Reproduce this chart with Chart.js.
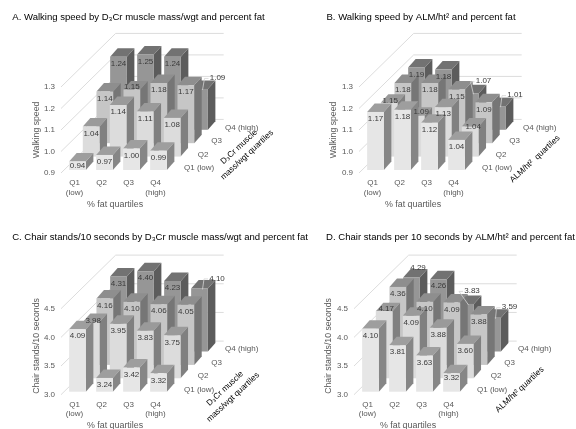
<!DOCTYPE html>
<html>
<head>
<meta charset="utf-8">
<script src="https://cdn.jsdelivr.net/npm/chart.js@4/dist/chart.umd.js"></script>
<style>
html,body{margin:0;padding:0;background:#fff;overflow:hidden;width:576px;height:429px}
#wrap{position:relative;width:576px;height:429px;overflow:hidden}
#wrap div{position:absolute}
</style>
</head>
<body>
<div id="wrap">
<div id="boxA"><canvas id="chartA"></canvas></div>
<div id="boxB"><canvas id="chartB"></canvas></div>
<div id="boxC"><canvas id="chartC"></canvas></div>
<div id="boxD"><canvas id="chartD"></canvas></div>
</div>
<script>
// ---- data ----
const fatQuartiles = [['Q1','(low)'],'Q2','Q3',['Q4','(high)']];
const depthQuartiles = ['Q1 (low)','Q2','Q3','Q4 (high)'];

const walkDxaQ1 = [0.94,0.97,1.00,0.99];
const walkDxaQ2 = [1.04,1.14,1.11,1.08];
const walkDxaQ3 = [1.14,1.15,1.18,1.17];
const walkDxaQ4 = [1.24,1.25,1.24,1.09];

const walkAlmQ1 = [1.17,1.18,1.12,1.04];
const walkAlmQ2 = [1.15,1.09,1.13,1.04];
const walkAlmQ3 = [1.18,1.18,1.15,1.09];
const walkAlmQ4 = [1.19,1.18,1.07,1.01];

const chairDxaQ1 = [4.09,3.24,3.42,3.32];
const chairDxaQ2 = [3.98,3.95,3.83,3.75];
const chairDxaQ3 = [4.16,4.10,4.06,4.05];
const chairDxaQ4 = [4.31,4.40,4.23,4.10];

const chairAlmQ1 = [4.10,3.81,3.63,3.32];
const chairAlmQ2 = [4.17,4.09,3.88,3.60];
const chairAlmQ3 = [4.36,4.10,4.09,3.88];
const chairAlmQ4 = [4.29,4.26,3.83,3.59];

// ---- styling ----
const FONT = '"Liberation Sans", Arial, sans-serif';
const faceFront = ['#e6e6e6','#dcdcdc','#c6c6c6','#969696'];
const faceTop   = ['#9e9e9e','#9a9a9a','#8e8e8e','#727272'];
const faceSide  = ['#868686','#808080','#767676','#5c5c5c'];
const STEP_X = 13.67, STEP_Y = 13.4, INSET = 3, BAR_DX = 7.5, BAR_DY = 8.5;

// bar: front face from the library's scales, pushed back along the depth axis
class Bar3DElement extends Chart.BarElement {
  static id = 'bar3dEl';
  draw(ctx) {
    const {x, y, base, width, faces} = this;
    const l = x - width / 2, r = x + width / 2;
    ctx.save();
    ctx.fillStyle = faces.side;
    ctx.beginPath();
    ctx.moveTo(r, y); ctx.lineTo(r + BAR_DX, y - BAR_DY);
    ctx.lineTo(r + BAR_DX, base - BAR_DY); ctx.lineTo(r, base);
    ctx.closePath(); ctx.fill();
    ctx.fillStyle = faces.top;
    ctx.beginPath();
    ctx.moveTo(l, y); ctx.lineTo(r, y);
    ctx.lineTo(r + BAR_DX, y - BAR_DY); ctx.lineTo(l + BAR_DX, y - BAR_DY);
    ctx.closePath(); ctx.fill();
    ctx.fillStyle = faces.front;
    ctx.fillRect(l, y, width, base - y);
    ctx.restore();
  }
}
class Bar3DController extends Chart.BarController {
  static id = 'bar3d';
  static defaults = {dataElementType: 'bar3dEl'};
  static overrides = Chart.BarController.overrides;
  updateElement(el, index, props, mode) {
    const k = this.index;
    const ox = INSET + k * STEP_X, oy = INSET + k * STEP_Y;
    if (props.x !== undefined) props.x += ox;
    if (props.y !== undefined) props.y -= oy;
    if (props.base !== undefined) props.base -= oy;
    props.faces = {front: faceFront[k], top: faceTop[k], side: faceSide[k]};
    super.updateElement(el, index, props, mode);
  }
}
// value axis whose title can sit off the axis centre
class ShiftedTitleScale extends Chart.LinearScale {
  static id = 'linearShiftedTitle';
  static defaults = Chart.LinearScale.defaults;
  drawTitle() {
    const ctx = this.ctx;
    ctx.save();
    ctx.translate(0, -(this.options.titleShift || 0));
    super.drawTitle();
    ctx.restore();
  }
}
Chart.register(Bar3DElement, Bar3DController, ShiftedTitleScale);

const depthPlugin = {
  id: 'depth3d',
  beforeDatasetsDraw(chart) {
    const {ctx, chartArea: a, scales: {y}} = chart;
    const n = depthQuartiles.length, X = n * STEP_X, Y = n * STEP_Y;
    ctx.save();
    ctx.strokeStyle = '#dcdcdc'; ctx.lineWidth = 1;
    y.ticks.forEach(t => {
      const py = y.getPixelForValue(t.value);
      ctx.beginPath();
      ctx.moveTo(a.left, py); ctx.lineTo(a.left + X, py - Y); ctx.lineTo(a.right + X, py - Y);
      ctx.stroke();
    });
    ctx.restore();
  },
  afterDatasetsDraw(chart, args, opts) {
    const {ctx, chartArea: a} = chart;
    ctx.save();
    // value labels
    ctx.font = '8px ' + FONT; ctx.textAlign = 'center'; ctx.textBaseline = 'middle';
    chart.data.datasets.forEach((ds, s) => {
      const meta = chart.getDatasetMeta(s);
      ds.data.forEach((v, c) => {
        const el = meta.data[c];
        const nudge = opts.nudges[s + ',' + c] || [0, 7];
        const lx = el.x + nudge[0], ly = el.y + nudge[1];
        if (nudge[2]) {
          ctx.strokeStyle = '#d4d4d4'; ctx.lineWidth = 0.8;
          ctx.beginPath();
          ctx.moveTo(el.x + 3, el.y + 1); ctx.lineTo(lx - 13, ly + 0.5); ctx.lineTo(lx - 9, ly + 0.5);
          ctx.stroke();
        }
        ctx.fillStyle = '#3a3a3a';
        ctx.fillText(v.toFixed(2), lx, ly);
      });
    });
    // depth axis tick labels
    ctx.font = '8px ' + FONT; ctx.fillStyle = '#595959'; ctx.textAlign = 'left';
    depthQuartiles.forEach((lab, k) => {
      ctx.fillText(lab, a.right + 15 + k * STEP_X, a.bottom - 5.3 - k * STEP_Y);
    });
    // depth axis title
    ctx.font = '8.3px ' + FONT; ctx.fillStyle = '#000'; ctx.textAlign = 'center';
    opts.depthTitle.forEach(line => {
      ctx.save();
      ctx.translate(a.left + line.dx, a.bottom - line.dy);
      ctx.rotate(-43 * Math.PI / 180);
      ctx.fillText(line.text, 0, 0);
      ctx.restore();
    });
    ctx.restore();
  }
};

function panel(id, cfg) {
  const box = document.getElementById('box' + id);
  box.style.left = cfg.cx + 'px'; box.style.top = cfg.cy + 'px';
  box.style.width = cfg.W + 'px'; box.style.height = cfg.H + 'px';
  new Chart(document.getElementById('chart' + id), {
    type: 'bar3d',
    plugins: [depthPlugin],
    data: {
      labels: fatQuartiles,
      datasets: cfg.series.map((d, i) => ({
        label: depthQuartiles[i], data: d, grouped: false, clip: false, base: cfg.min,
        categoryPercentage: 0.62, barPercentage: 1, backgroundColor: faceFront[i]
      }))
    },
    options: {
      responsive: true, maintainAspectRatio: false, animation: false,
      layout: {padding: 0},
      plugins: {
        legend: {display: false},
        tooltip: {enabled: false},
        title: {
          display: true, text: cfg.title, align: 'center', color: '#000',
          font: {family: FONT, size: 9.55, weight: 'normal', lineHeight: 1.2},
          padding: {top: cfg.titleTop, bottom: cfg.T - cfg.titleTop - 9.55 * 1.2}
        },
        depth3d: {depthTitle: cfg.depthTitle, nudges: cfg.nudges}
      },
      scales: {
        x: {
          type: 'category',
          grid: {display: false, drawTicks: false}, border: {display: false},
          ticks: {color: '#595959', font: {family: FONT, size: 8, lineHeight: 1.2}, padding: 5, maxRotation: 0, autoSkip: false},
          title: {display: true, text: '% fat quartiles', color: '#595959',
                  font: {family: FONT, size: 8.9}, padding: {top: 2, bottom: cfg.xTitleBottom}},
          afterFit(s) { s.height = cfg.H - cfg.B; }
        },
        y: {
          type: 'linearShiftedTitle', min: cfg.min, max: cfg.max, titleShift: cfg.yTitleShift,
          grid: {display: false, drawTicks: false}, border: {display: false},
          ticks: {color: '#595959', stepSize: cfg.step, font: {family: FONT, size: 8}, padding: 6,
                  callback: v => v.toFixed(1)},
          title: {display: true, text: cfg.yTitle, color: '#595959',
                  font: {family: FONT, size: 8.7}, padding: {top: cfg.yTitleGap, bottom: 0}},
          afterFit(s) { s.width = cfg.L; }
        },
        depthSpace: {
          type: 'linear', position: 'right', display: true,
          grid: {display: false, drawTicks: false}, border: {display: false},
          ticks: {display: false},
          afterFit(s) { s.width = cfg.W - cfg.R; }
        }
      }
    }
  });
}

panel('A', {
  cx: 0, cy: 0, W: 277, H: 215, L: 61, R: 169, T: 87, B: 173,
  titleTop: 11.2, yTitleGap: 31.5, yTitleShift: 0, xTitleBottom: 5,
  title: 'A. Walking speed by D\u2083Cr muscle mass/wgt and percent fat',
  yTitle: 'Walking speed', min: 0.9, max: 1.3, step: 0.1,
  series: [walkDxaQ1, walkDxaQ2, walkDxaQ3, walkDxaQ4],
  depthTitle: [{text: 'D\u2083Cr muscle', dx: 178, dy: 26}, {text: 'mass/wgt quartiles', dx: 186, dy: 18}],
  nudges: {'0,0': [0, 4.5], '2,1': [0, -3], '3,3': [18, -11, 1]}
});
panel('B', {
  cx: 280, cy: 0, W: 282, H: 215, L: 79, R: 187, T: 87, B: 173,
  titleTop: 11.2, yTitleGap: 48.5, yTitleShift: 0, xTitleBottom: 5,
  title: 'B. Walking speed by ALM/ht\u00b2 and percent fat',
  yTitle: 'Walking speed', min: 0.9, max: 1.3, step: 0.1,
  series: [walkAlmQ1, walkAlmQ2, walkAlmQ3, walkAlmQ4],
  depthTitle: [{text: 'ALM/ht\u00b2  quartiles', dx: 176, dy: 14}],
  nudges: {'1,0': [1, -2], '1,1': [5, -4], '1,3': [3, 0], '3,2': [13, -12, 1], '3,3': [17.5, -11, 1]}
});
panel('C', {
  cx: 0, cy: 215, W: 320, H: 214, L: 61, R: 169, T: 93.7, B: 179.7,
  titleTop: 16.5, yTitleGap: 31.5, yTitleShift: 5.7, xTitleBottom: -2,
  title: 'C. Chair stands/10 seconds by D\u2083Cr muscle mass/wgt and percent fat',
  yTitle: 'Chair stands/10 seconds', min: 3.0, max: 4.5, step: 0.5,
  series: [chairDxaQ1, chairDxaQ2, chairDxaQ3, chairDxaQ4],
  depthTitle: [{text: 'D\u2083Cr muscle', dx: 164, dy: 6}, {text: 'mass/wgt quartiles', dx: 172, dy: -2.5}],
  nudges: {'1,0': [2, -1], '3,3': [17.5, -10, 1]}
});
panel('D', {
  cx: 310, cy: 215, W: 281, H: 214, L: 44, R: 152, T: 93.7, B: 179.7,
  titleTop: 16.5, yTitleGap: 13.5, yTitleShift: 5.7, xTitleBottom: -2,
  title: 'D. Chair stands per 10 seconds by ALM/ht\u00b2 and percent fat',
  yTitle: 'Chair stands/10 seconds', min: 3.0, max: 4.5, step: 0.5,
  series: [chairAlmQ1, chairAlmQ2, chairAlmQ3, chairAlmQ4],
  depthTitle: [{text: 'ALM/ht\u00b2 quartiles', dx: 165.7, dy: 5}],
  nudges: {'0,3': [0, 4.6], '1,0': [2, -2], '3,0': [6.5, -10], '3,2': [6.5, -13, 1], '3,3': [17, -10.4, 1]}
});
</script>
</body>
</html>
